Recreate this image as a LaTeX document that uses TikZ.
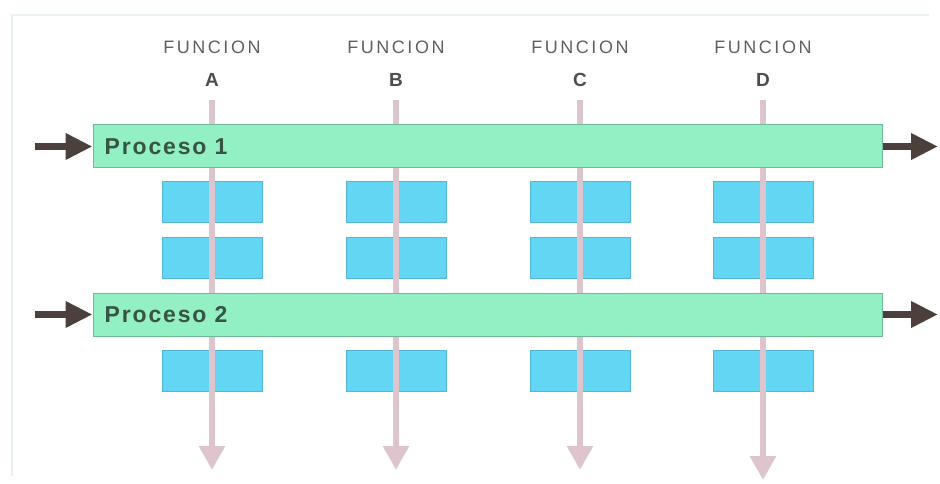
\documentclass[tikz,border=0pt]{standalone}
\usepackage{fontspec}
\setmainfont{Liberation Sans}
\usetikzlibrary{arrows.meta,positioning}

\definecolor{barfill}{RGB}{146,240,196}
\definecolor{barline}{RGB}{112,186,150}
\definecolor{boxfill}{RGB}{98,214,242}
\definecolor{boxline}{RGB}{84,182,212}
\definecolor{flowline}{RGB}{222,196,204}
\definecolor{procarrowcol}{RGB}{76,64,60}
\definecolor{labeltext}{RGB}{96,96,96}
\definecolor{bartext}{RGB}{54,84,68}
\definecolor{framecol}{RGB}{234,242,242}

\tikzset{
  procbar/.style={draw=barline, fill=barfill, line width=1pt, inner sep=0pt,
    minimum width=789pt, minimum height=43pt},
  procname/.style={anchor=west, inner sep=0pt, text=bartext,
    font=\fontsize{23}{25}\selectfont\bfseries\addfontfeature{LetterSpace=8}},
  taskbox/.style={draw=boxline, fill=boxfill, line width=0.8pt, inner sep=0pt,
    minimum width=100pt, minimum height=41pt},
  funcname/.style={inner sep=0pt, text=labeltext,
    font=\fontsize{18}{20}\selectfont\addfontfeature{LetterSpace=14}},
  funcletter/.style={inner sep=0pt, text=labeltext!80!black,
    font=\fontsize{19}{21}\selectfont\bfseries},
  flowarrow/.style={draw=flowline, line width=6pt,
    -{Triangle[width=25pt,length=24pt]}},
  procarrow/.style={draw=procarrowcol, line width=7pt,
    -{Triangle[width=25pt,length=27pt]}},
}

\begin{document}
\begin{tikzpicture}[x=1pt,y=-1pt]
  \useasboundingbox (0,0) rectangle (940,484);
  % faint frame
  \draw [framecol, line width=2pt] (12,476) -- (12,15) -- (929,15);

  % function columns
  \foreach \f/\x/\e in {A/212/470, B/396/470, C/580/470, D/763/480} {
    \node [funcname] (fn\f) at (\x,47) {FUNCION};
    \node [funcletter] (fl\f) at (\x,80) {\f};
    \node [taskbox] (t\f1) at (\x,202) {};
    \node [taskbox] (t\f2) at (\x,257.5) {};
    \node [taskbox] (t\f3) at (\x,370.5) {};
    \coordinate (end\f) at (\x,\e);
    \coordinate (top\f) at (\x,100);
    \draw [flowarrow] (top\f) -- (end\f);
  }

  % processes
  \node [procbar] (p1) at (487.5,146.5) {};
  \node [procbar] (p2) at (487.5,314.5) {};
  \node [procname] (n1) at ([xshift=12pt]p1.west) {Proceso 1};
  \node [procname] (n2) at ([xshift=12pt]p2.west) {Proceso 2};

  \coordinate (in1) at (35,146.5);
  \coordinate (in2) at (35,314.5);
  \coordinate (out1) at (938,146.5);
  \coordinate (out2) at (938,314.5);
  \draw [procarrow] (in1) -- (p1.west);
  \draw [procarrow] (in2) -- (p2.west);
  \draw [procarrow] (p1.east) -- (out1);
  \draw [procarrow] (p2.east) -- (out2);
\end{tikzpicture}
\end{document}
